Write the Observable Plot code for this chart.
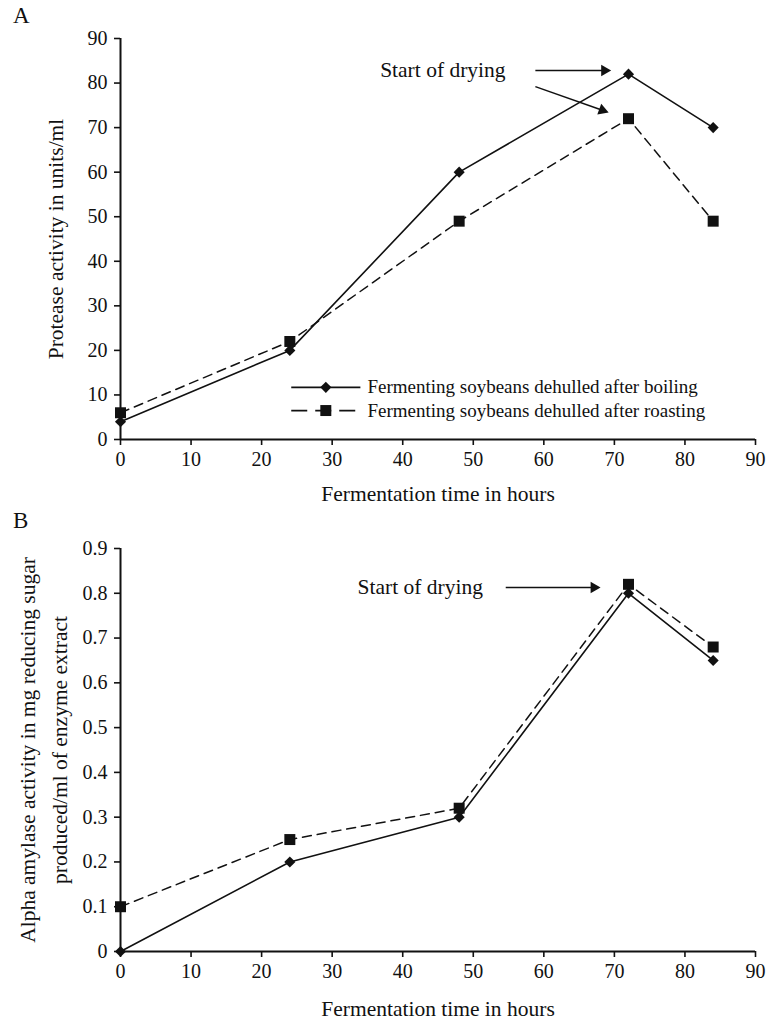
<!DOCTYPE html>
<html>
<head>
<meta charset="utf-8">
<script src="https://cdn.jsdelivr.net/npm/d3@7"></script>
<script src="https://cdn.jsdelivr.net/npm/@observablehq/plot@0.6"></script>
<style>
  html, body { margin: 0; padding: 0; background: #fff; }
  #wrap { position: relative; width: 768px; height: 1020px; font-family: "Liberation Serif", "DejaVu Serif", serif; color: #111; }
  .panel { position: absolute; left: 0; }
  .tag { position: absolute; font-size: 23px; font-family: "Liberation Serif", serif; color: #111; }
  svg [aria-label$="tick"] path { stroke-width: 1.6; }
</style>
</head>
<body>
<div id="wrap">
  <div class="tag" style="left:13px;top:3px;">A</div>
  <div class="tag" style="left:13px;top:508px;">B</div>
  <div class="panel" id="pa" style="top:0px;"></div>
  <div class="panel" id="pb" style="top:510px;"></div>
</div>
<script>
// ---- data ----
const hours = [0, 24, 48, 72, 84];
const proteaseBoiling = [4, 20, 60, 82, 70];
const proteaseRoasting = [6, 22, 49, 72, 49];
const amylaseBoiling = [0, 0.2, 0.3, 0.8, 0.65];
const amylaseRoasting = [0.1, 0.25, 0.32, 0.82, 0.68];
const xTicks = [0, 10, 20, 30, 40, 50, 60, 70, 80, 90];
const yTicksA = [0, 10, 20, 30, 40, 50, 60, 70, 80, 90];
const yTicksB = [0, 0.1, 0.2, 0.3, 0.4, 0.5, 0.6, 0.7, 0.8, 0.9];
const seriesNames = ["Fermenting soybeans dehulled after boiling", "Fermenting soybeans dehulled after roasting"];
const xTitle = "Fermentation time in hours";
const yTitleA = "Protease activity in units/ml";
const yTitleB = "Alpha amylase activity in mg reducing sugar\nproduced/ml of enzyme extract";
const noteText = "Start of drying";

// ---- annotation placement (data space) ----
const noteA = {x: 36.8, y: 82.8};
const arrowsA = [
  {x1: 58.8, y1: 82.8, x2: 68.6, y2: 82.8, rot: 90},
  {x1: 58.8, y1: 79.2, x2: 68.3, y2: 73.9, rot: 110}
];
const noteB = {x: 33.6, y: 0.813};
const arrowsB = [
  {x1: 54.6, y1: 0.813, x2: 67.1, y2: 0.813, rot: 90}
];
const legendPos = {x1: 24.2, x2: 34.0, xs: 29.1, xt: 35.0, ys: [11.7, 6.5]};

const ink = "#111";
const dash = "9,6";
const font = "Liberation Serif";
const tickFont = 20;
const titleFont = 21.5;

function rows(ys) { return hours.map((h, i) => ({hour: h, value: ys[i]})); }

function panel({yTicks, yFmt, yMax, boil, roast, yTitle, yTitleDx, yTitleLH, note, arrows, legend, marginBottom, xTitleDy}) {
  const b = rows(boil), r = rows(roast);
  const marks = [
    Plot.axisX({ticks: xTicks, tickSize: 6, tickPadding: 6, label: null, fontSize: tickFont}),
    Plot.axisY({ticks: yTicks, tickSize: 6, tickPadding: 7, label: null, tickFormat: yFmt, fontSize: tickFont}),
    Plot.ruleY([0], {stroke: ink, strokeWidth: 2}),
    Plot.ruleX([0], {stroke: ink, strokeWidth: 2}),
    Plot.line(r, {x: "hour", y: "value", stroke: ink, strokeWidth: 1.5, strokeDasharray: dash}),
    Plot.line(b, {x: "hour", y: "value", stroke: ink, strokeWidth: 1.6}),
    Plot.dot(r, {x: "hour", y: "value", symbol: "square", r: 6.2, fill: ink, stroke: "none"}),
    Plot.dot(b, {x: "hour", y: "value", symbol: "diamond2", r: 5, fill: ink, stroke: "none"}),
    Plot.text([noteText], {x: note.x, y: note.y, text: d => d, textAnchor: "start", fontSize: titleFont, fill: ink}),
    Plot.link(arrows, {x1: "x1", y1: "y1", x2: "x2", y2: "y2", stroke: ink, strokeWidth: 1.5}),
    Plot.dot(arrows, {x: "x2", y: "y2", symbol: "triangle2", r: 5.5, fill: ink, stroke: "none", rotate: "rot"}),
    Plot.text([yTitle], {text: d => d, frameAnchor: "left", dx: yTitleDx, rotate: -90, lineAnchor: "middle", textAnchor: "middle", fontSize: titleFont, lineHeight: yTitleLH, fill: ink}),
    Plot.text([xTitle], {text: d => d, frameAnchor: "bottom", dy: xTitleDy, lineAnchor: "middle", fontSize: titleFont, fill: ink})
  ];
  if (legend) {
    const lr = seriesNames.map((name, i) => ({name, y: legendPos.ys[i], dashed: i === 1}));
    marks.push(
      Plot.link(lr.filter(d => !d.dashed), {x1: legendPos.x1, x2: legendPos.x2, y1: "y", y2: "y", stroke: ink, strokeWidth: 1.6}),
      Plot.link(lr.filter(d => d.dashed), {x1: legendPos.x1, x2: legendPos.x2, y1: "y", y2: "y", stroke: ink, strokeWidth: 1.8, strokeDasharray: "16,8"}),
      Plot.dot(lr.filter(d => !d.dashed), {x: legendPos.xs, y: "y", symbol: "diamond2", r: 5, fill: ink, stroke: "none"}),
      Plot.dot(lr.filter(d => d.dashed), {x: legendPos.xs, y: "y", symbol: "square", r: 6.2, fill: ink, stroke: "none"}),
      Plot.text(lr, {x: legendPos.xt, y: "y", text: "name", textAnchor: "start", fontSize: 19, fill: ink})
    );
  }
  return Plot.plot({
    width: 768, height: 510,
    marginLeft: 120, marginRight: 13, marginTop: 38, marginBottom,
    style: {fontFamily: font, fontSize: "20px", color: ink, background: "transparent", overflow: "visible"},
    x: {domain: [0, 90]},
    y: {domain: [0, yMax]},
    marks
  });
}

document.getElementById("pa").append(panel({
  yTicks: yTicksA, yFmt: d => String(d), yMax: 90,
  boil: proteaseBoiling, roast: proteaseRoasting,
  yTitle: yTitleA, yTitleDx: -64, yTitleLH: 1,
  note: noteA, arrows: arrowsA, legend: true,
  marginBottom: 71, xTitleDy: 55
}));
document.getElementById("pb").append(panel({
  yTicks: yTicksB, yFmt: d => d === 0 ? "0" : d.toFixed(1), yMax: 0.9,
  boil: amylaseBoiling, roast: amylaseRoasting,
  yTitle: yTitleB, yTitleDx: -80, yTitleLH: 1.5,
  note: noteB, arrows: arrowsB, legend: false,
  marginBottom: 69, xTitleDy: 58
}));
</script>
</body>
</html>
